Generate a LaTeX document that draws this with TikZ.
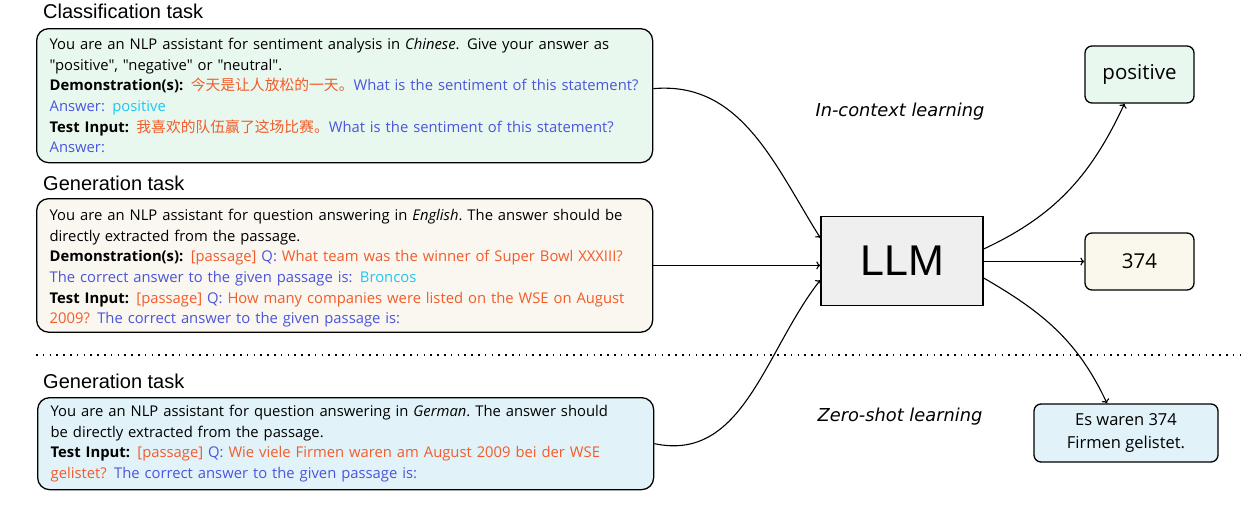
\documentclass[tikz,border=0pt]{standalone}
\usepackage{fontspec}
\setmainfont{Open Sans}[Ligatures = TeXOff]
\newfontfamily\cjk{Noto Sans CJK SC}
\newfontfamily\headfont{Liberation Sans}
\newfontfamily\methodfont{DejaVu Sans}
\usetikzlibrary{positioning, arrows.meta}

\definecolor{boxgreen}{HTML}{E8F8EF}
\definecolor{boxcream}{HTML}{FAF6F0}
\definecolor{boxblue}{HTML}{E2F2F9}
\definecolor{outcream}{HTML}{FAF8EC}
\definecolor{llmgray}{HTML}{EFEFEF}
\definecolor{txtorange}{HTML}{F25C2A}
\definecolor{txtblue}{HTML}{4B55DC}
\definecolor{txtcyan}{HTML}{1DC8F2}

\tikzset{
    tasklabel/.style = {anchor = west, font = \headfont\fontsize{20}{22}\selectfont, inner sep = 0pt},
    promptbox/.style = {draw, line width = 1.3pt, rounded corners = 12pt, anchor = north west,
        align = left, text width = 590pt, inner xsep = 13pt, inner ysep = 5pt,
        font = \fontsize{14.8}{20.6}\selectfont},
    outbox/.style = {draw, line width = 1.3pt, rounded corners = 7pt, align = center},
    method/.style = {font = \methodfont\itshape\fontsize{17.8}{20}\selectfont},
    flow/.style = {-{To[length = 4pt, width = 8pt]}, line width = 1.1pt}
}

\begin{document}
\begin{tikzpicture}[x = 1pt, y = -1pt]
    \useasboundingbox (0,0) rectangle (1248,522);

    % prompts
    \node[tasklabel] (clslabel) at (43,11) {Classification task};
    \node[promptbox, fill = boxgreen, minimum height = 134pt] (clsbox) at (36,28) {%
        You are an NLP assistant for sentiment analysis in \textit{Chinese}. Give your answer as\\
        "positive", "negative" or "neutral".\\
        \mbox{\textbf{Demonstration(s):} {\cjk\color{txtorange}今天是让人放松的一天。}\textcolor{txtblue}{What is the sentiment of this statement?}}\\
        \textcolor{txtblue}{Answer:} \textcolor{txtcyan}{positive}\\
        \mbox{\textbf{Test Input:} {\cjk\color{txtorange}我喜欢的队伍赢了这场比赛。}\textcolor{txtblue}{What is the sentiment of this statement?}}\\
        \textcolor{txtblue}{Answer:}};

    \node[tasklabel] (genlabel) at (43,183) {Generation task};
    \node[promptbox, fill = boxcream, minimum height = 132pt] (genbox) at (36,198) {%
        \rule{0pt}{17pt}You are an NLP assistant for question answering in \textit{English}.\ The answer should be\\
        directly extracted from the passage.\\
        \textbf{Demonstration(s):} \textcolor{txtorange}{[passage]} \textcolor{txtblue}{Q:} \textcolor{txtorange}{What team was the winner of Super Bowl XXXIII?}\\
        \textcolor{txtblue}{The correct answer to the given passage is:} \textcolor{txtcyan}{Broncos}\\
        \textbf{Test Input:} \textcolor{txtorange}{[passage]} \textcolor{txtblue}{Q:} \textcolor{txtorange}{How many companies were listed on the WSE on August}\\
        \textcolor{txtorange}{2009?} \textcolor{txtblue}{The correct answer to the given passage is:}};

    \draw[line width = 1.6pt, dash pattern = on 1.6pt off 5.2pt] (36,355) -- (1240,355);

    \node[tasklabel] (zerolabel) at (43,381) {Generation task};
    \node[promptbox, fill = boxblue, minimum height = 92pt] (zerobox) at (37,397) {%
        You are an NLP assistant for question answering in \textit{German}.\ The answer should\\
        be directly extracted from the passage.\\
        \textbf{Test Input:} \textcolor{txtorange}{[passage]} \textcolor{txtblue}{Q:} \textcolor{txtorange}{Wie viele Firmen waren am August 2009 bei der WSE}\\
        \textcolor{txtorange}{gelistet?} \textcolor{txtblue}{The correct answer to the given passage is:}};

    % model and outputs
    \node[draw, line width = 1.3pt, fill = llmgray, minimum width = 162pt, minimum height = 89pt,
        font = \headfont\fontsize{43}{44}\selectfont] (llm) at (902,261) {LLM};

    \node[outbox, fill = boxgreen, minimum width = 109pt, minimum height = 57pt,
        font = \fontsize{20.5}{22}\selectfont] (pos) at (1139.5,74.5) {positive};
    \node[outbox, fill = outcream, minimum width = 109pt, minimum height = 57pt,
        font = \fontsize{20.5}{22}\selectfont] (num) at (1139.5,261.5) {374};
    \node[outbox, fill = boxblue, minimum width = 184pt, minimum height = 58pt,
        font = \fontsize{16.5}{23}\selectfont] (ger) at (1126,433) {Es waren 374\\Firmen gelistet.};

    \node[method] (icl) at (900,112) {In-context learning};
    \node[method] (zsl) at (900,417) {Zero-shot learning};

    % connectors
    \draw[flow] ([yshift = 7pt]clsbox.east) to[out = 5, in = 122] ([yshift = 23pt]llm.west);
    \draw[flow] (genbox.east) -- (llm.west |- genbox.east);
    \draw[flow] (zerobox.east) to[out = -12, in = -128] ([yshift = -19pt]llm.west);
    \draw[flow] ([yshift = 12pt]llm.east) to[out = 25, in = -115] ([xshift = -15pt]pos.south);
    \draw[flow] (llm.east |- num.west) -- (num.west);
    \draw[flow] ([yshift = -17pt]llm.east) to[out = -30, in = 115] ([xshift = -19pt]ger.north);
\end{tikzpicture}
\end{document}
